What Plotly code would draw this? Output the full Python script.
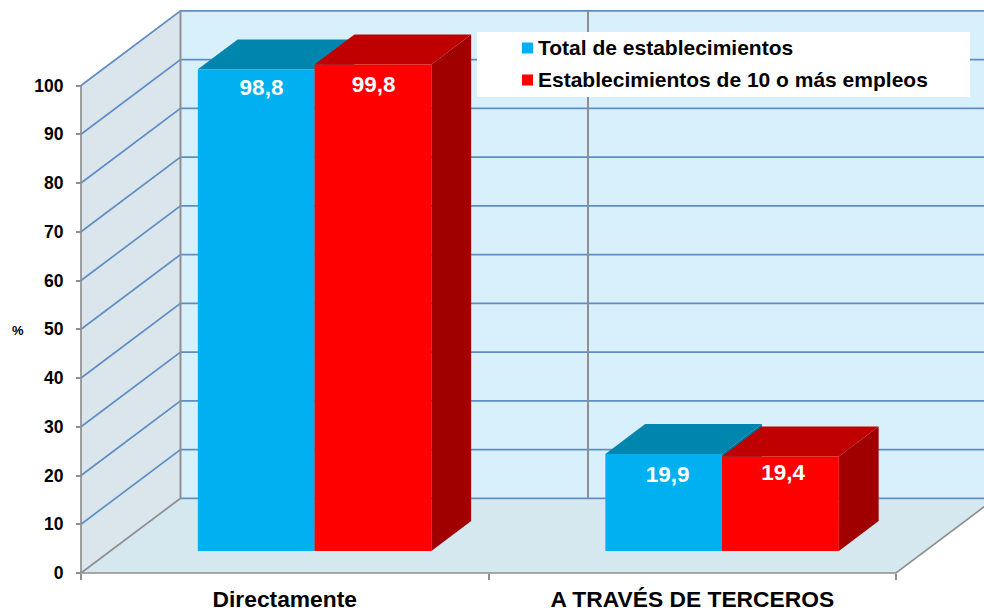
import plotly.graph_objects as go

categories = ["Directamente", "A TRAVÉS DE TERCEROS"]
series_names = ["Total de establecimientos", "Establecimientos de 10 o más empleos"]
total_values = [98.8, 19.9]
large_values = [99.8, 19.4]
value_ticks = [0, 10, 20, 30, 40, 50, 60, 70, 80, 90, 100]
labels_total = ["98,8", "19,9"]
labels_large = ["99,8", "19,4"]

W, H = 984, 611
LEFT_PX, ZERO_PX, CAT_PX, UNIT_PX = 81.0, 573.0, 407.5, 4.875
DEPTH_X = 99.5 / CAT_PX      # oblique shift of the whole depth, in category units
DEPTH_Y = 74.7 / UNIT_PX     # oblique shift of the whole depth, in value units
N = len(categories)
GAP = 0.2147
BAR_W = 0.2865
D0, D1 = 0.295, 0.695

GRID = "#5F8EC5"
AXIS = "#8F8F8F"
BACK = "#D8F0FB"
SIDE = "#DAE6EC"
FLOOR = "#D5E7EF"
FACE = ["#00B0F0", "#FF0000"]
TOP = ["#0085AF", "#C00000"]
RIGHT = ["#006F93", "#A00000"]
FONT = "Liberation Sans"


def pr(x, v, d):
    return x + d * DEPTH_X, v + d * DEPTH_Y


def poly(points, color):
    xy = [pr(*p) for p in points] + [pr(*points[0])]
    return go.Scatter(x=[a for a, _ in xy], y=[b for _, b in xy], mode="lines", fill="toself",
                      fillcolor=color, line=dict(width=0, color=color), hoverinfo="skip",
                      showlegend=False)


def lines(segments, color, width):
    xs, ys = [], []
    for seg in segments:
        for p in seg:
            a, b = pr(*p)
            xs.append(a)
            ys.append(b)
        xs.append(None)
        ys.append(None)
    return go.Scatter(x=xs, y=ys, mode="lines", line=dict(color=color, width=width),
                      hoverinfo="skip", showlegend=False)


fig = go.Figure()
top_v = value_ticks[-1]
fig.add_trace(poly([(0, 0, 0), (0, top_v, 0), (0, top_v, 1), (0, 0, 1)], SIDE))
fig.add_trace(poly([(0, 0, 0), (N, 0, 0), (N, 0, 1), (0, 0, 1)], FLOOR))
fig.add_trace(poly([(0, 0, 1), (N, 0, 1), (N, top_v, 1), (0, top_v, 1)], BACK))
fig.add_trace(lines([[(0, v, 0), (0, v, 1), (N, v, 1)] for v in value_ticks[1:]], GRID, 1.7))
fig.add_trace(lines([[(0, 0, 1), (N, 0, 1)]], GRID, 1.7))
fig.add_trace(lines([[(c, 0, 1), (c, top_v, 1)] for c in range(N)], AXIS, 2))
fig.add_trace(lines([[(0, 0, 1), (0, 0, 0), (N, 0, 0), (N, 0, 1)], [(0, 0, 0), (0, top_v, 0)]], AXIS, 1.7))

for s, vals in enumerate([total_values, large_values]):
    for i, v in enumerate(vals):
        a = i + GAP + s * BAR_W
        b = a + BAR_W
        fig.add_trace(poly([(b, 0, D0), (b, v, D0), (b, v, D1), (b, 0, D1)], RIGHT[s]))
        fig.add_trace(poly([(a, v, D0), (b, v, D0), (b, v, D1), (a, v, D1)], TOP[s]))
        fig.add_trace(poly([(a, 0, D0), (b, 0, D0), (b, v, D0), (a, v, D0)], FACE[s]))

# data labels, hand-placed below each bar's top as in the source
label_drop = [[4.1, 4.7], [4.5, 3.7]]
label_shift = [[0.013, 0.0094], [0.0014, 0.0068]]
for s, (vals, labs) in enumerate([(total_values, labels_total), (large_values, labels_large)]):
    xs, ys = [], []
    for i, v in enumerate(vals):
        a, b = pr(i + GAP + (s + 0.5) * BAR_W + label_shift[s][i], v - label_drop[s][i], D0)
        xs.append(a)
        ys.append(b)
    fig.add_trace(go.Scatter(x=xs, y=ys, mode="text", text=labs, textposition="middle center",
                             textfont=dict(family=FONT, size=22.5, color="white", weight="bold"),
                             hoverinfo="skip", showlegend=False))

shapes = [dict(type="rect", xref="paper", yref="paper", x0=477 / W, x1=970 / W, y0=1 - 97 / H, y1=1 - 32 / H,
               fillcolor="white", line=dict(width=0), layer="above")]
annotations = [dict(text="%", xref="paper", yref="paper", x=17.5 / W, y=1 - 330 / H, showarrow=False,
                    xanchor="center", yanchor="middle",
                    font=dict(family=FONT, size=13, color="black", weight="bold"))]
legend_rows_px = [48, 80]
for s, name in enumerate(series_names):
    r = legend_rows_px[s]
    shapes.append(dict(type="rect", xref="paper", yref="paper", x0=522 / W, x1=533 / W,
                       y0=1 - (r + 5.5) / H, y1=1 - (r - 5.5) / H, fillcolor=FACE[s],
                       line=dict(width=0), layer="above"))
    annotations.append(dict(text=name, xref="paper", yref="paper", x=537 / W, y=1 - (r - 0.5) / H,
                            xanchor="left", yanchor="middle", xshift=-1, showarrow=False,
                            font=dict(family=FONT, size=21, color="black", weight="bold")))

fig.update_layout(
    width=W, height=H, margin=dict(l=0, r=0, t=0, b=0, autoexpand=False),
    paper_bgcolor="white", plot_bgcolor="white", showlegend=False,
    xaxis=dict(range=[-LEFT_PX / CAT_PX, (W - LEFT_PX) / CAT_PX], anchor="free", position=(H - ZERO_PX) / H,
               tickmode="array", tickvals=[i + 0.5 for i in range(N)], ticktext=categories,
               ticks="", showgrid=False, zeroline=False, showline=False, ticklabelstandoff=10, automargin=False,
               tickfont=dict(family=FONT, size=22.8, color="black", weight="bold"),
               minor=dict(tickmode="array", tickvals=list(range(N + 1)), ticks="outside", ticklen=6,
                          tickwidth=1.5, tickcolor=AXIS, showgrid=False)),
    yaxis=dict(range=[(ZERO_PX - H) / UNIT_PX, ZERO_PX / UNIT_PX], anchor="free", position=LEFT_PX / W,
               tickmode="array", tickvals=value_ticks, ticks="outside", ticklen=5, tickwidth=1.5, automargin=False,
               tickcolor=AXIS, showgrid=False, zeroline=False, showline=False, ticklabelstandoff=9,
               tickfont=dict(family=FONT, size=17.5, color="black", weight="bold")),
    shapes=shapes,
    annotations=annotations,
)
fig.write_html("out.html", config={"displayModeBar": False},
               post_script="document.body.style.margin='0';document.body.style.overflow='hidden';")
